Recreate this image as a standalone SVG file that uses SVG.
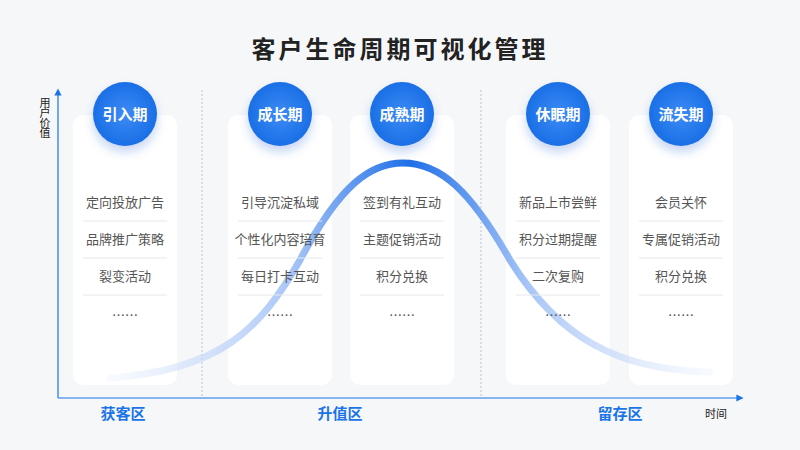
<svg xmlns="http://www.w3.org/2000/svg" width="800" height="450" viewBox="0 0 800 450">
<defs>
<style>
text{font-family:"Noto Sans CJK SC","Noto Sans",sans-serif;}
.card{fill:#fff;}
.ttl{font-size:15px;font-weight:bold;fill:#fff;text-anchor:middle;}
.it{font-size:13px;fill:#555;text-anchor:middle;}
.dv{stroke:#e6e8ec;stroke-width:1;}
.zone{font-size:15px;font-weight:bold;fill:#1a73e8;text-anchor:middle;}
.sep{stroke:#b8c4d8;stroke-width:1;stroke-dasharray:2 2;}
</style>
<linearGradient id="cg" x1="0" y1="0" x2="1" y2="0">
<stop offset="0" stop-color="#dbe6fb" stop-opacity="0.2"/>
<stop offset="0.3" stop-color="#a9c6f7"/>
<stop offset="0.5" stop-color="#1f6fe8"/>
<stop offset="0.7" stop-color="#a9c6f7"/>
<stop offset="1" stop-color="#dbe6fb" stop-opacity="0.2"/>
</linearGradient>
<radialGradient id="bg" cx="0.5" cy="0.5" r="0.5">
<stop offset="0" stop-color="#3d8bf5"/><stop offset="1" stop-color="#1a6fe6"/>
</radialGradient>
<filter id="sh" x="-50%" y="-50%" width="200%" height="200%"><feDropShadow dx="0" dy="6" stdDeviation="5" flood-color="#1a5fd0" flood-opacity="0.25"/></filter>
<marker id="ar" viewBox="0 0 6 6" refX="3" refY="3" markerWidth="6" markerHeight="6" orient="auto"><path d="M0,0 L6,3 L0,6 Z" fill="#1a73e8"/></marker>
</defs>
<rect width="800" height="450" fill="#f6f7f9"/>
<text x="400" y="58" font-size="24" font-weight="bold" fill="#222" text-anchor="middle" letter-spacing="3">客户生命周期可视化管理</text>
<g id="cards">
<rect class="card" x="73" y="115" width="104" height="270" rx="10"/>
<rect class="card" x="228" y="115" width="104" height="270" rx="10"/>
<rect class="card" x="350" y="115" width="104" height="270" rx="10"/>
<rect class="card" x="506" y="115" width="104" height="270" rx="10"/>
<rect class="card" x="629" y="115" width="104" height="270" rx="10"/>
</g>
<g id="connectors">
<line x1="58" y1="398" x2="58" y2="92" stroke="#1a73e8" stroke-width="1.2" marker-end="url(#ar)"/>
<line x1="58" y1="398" x2="740" y2="398" stroke="#1a73e8" stroke-width="1.2" marker-end="url(#ar)"/>
<line class="sep" x1="202" y1="90" x2="202" y2="398"/>
<line class="sep" x1="481" y1="90" x2="481" y2="398"/>
<path d="M110,378 C220,370 260,330 300,260 C340,185 370,163 403,163 C440,163 470,190 510,260 C560,340 620,370 710,372" fill="none" stroke="url(#cg)" stroke-width="7" stroke-linecap="round"/>
</g>
<text x="45" y="97" font-size="11" fill="#222" writing-mode="tb" text-anchor="start" letter-spacing="-1">用户价值</text>
<text x="716" y="418" font-size="11" fill="#222" text-anchor="middle">时间</text>
<text class="zone" x="123" y="419">获客区</text>
<text class="zone" x="340" y="419">升值区</text>
<text class="zone" x="620" y="419">留存区</text>
<g id="n1">
<circle cx="125" cy="114" r="32" fill="url(#bg)" filter="url(#sh)"/><text class="ttl" x="125" y="120">引入期</text>
<text class="it" x="125" y="207">定向投放广告</text><line class="dv" x1="83" y1="221" x2="167" y2="221"/>
<text class="it" x="125" y="244">品牌推广策略</text><line class="dv" x1="83" y1="258" x2="167" y2="258"/>
<text class="it" x="125" y="281">裂变活动</text><line class="dv" x1="83" y1="295" x2="167" y2="295"/>
<text class="it" x="125" y="320" font-size="10">……</text>
</g>
<g id="n2">
<circle cx="280" cy="114" r="32" fill="url(#bg)" filter="url(#sh)"/><text class="ttl" x="280" y="120">成长期</text>
<text class="it" x="280" y="207">引导沉淀私域</text><line class="dv" x1="238" y1="221" x2="322" y2="221"/>
<text class="it" x="280" y="244">个性化内容培育</text><line class="dv" x1="238" y1="258" x2="322" y2="258"/>
<text class="it" x="280" y="281">每日打卡互动</text><line class="dv" x1="238" y1="295" x2="322" y2="295"/>
<text class="it" x="280" y="320" font-size="10">……</text>
</g>
<g id="n3">
<circle cx="402" cy="114" r="32" fill="url(#bg)" filter="url(#sh)"/><text class="ttl" x="402" y="120">成熟期</text>
<text class="it" x="402" y="207">签到有礼互动</text><line class="dv" x1="360" y1="221" x2="444" y2="221"/>
<text class="it" x="402" y="244">主题促销活动</text><line class="dv" x1="360" y1="258" x2="444" y2="258"/>
<text class="it" x="402" y="281">积分兑换</text><line class="dv" x1="360" y1="295" x2="444" y2="295"/>
<text class="it" x="402" y="320" font-size="10">……</text>
</g>
<g id="n4">
<circle cx="558" cy="114" r="32" fill="url(#bg)" filter="url(#sh)"/><text class="ttl" x="558" y="120">休眠期</text>
<text class="it" x="558" y="207">新品上市尝鲜</text><line class="dv" x1="516" y1="221" x2="600" y2="221"/>
<text class="it" x="558" y="244">积分过期提醒</text><line class="dv" x1="516" y1="258" x2="600" y2="258"/>
<text class="it" x="558" y="281">二次复购</text><line class="dv" x1="516" y1="295" x2="600" y2="295"/>
<text class="it" x="558" y="320" font-size="10">……</text>
</g>
<g id="n5">
<circle cx="681" cy="114" r="32" fill="url(#bg)" filter="url(#sh)"/><text class="ttl" x="681" y="120">流失期</text>
<text class="it" x="681" y="207">会员关怀</text><line class="dv" x1="639" y1="221" x2="723" y2="221"/>
<text class="it" x="681" y="244">专属促销活动</text><line class="dv" x1="639" y1="258" x2="723" y2="258"/>
<text class="it" x="681" y="281">积分兑换</text><line class="dv" x1="639" y1="295" x2="723" y2="295"/>
<text class="it" x="681" y="320" font-size="10">……</text>
</g>
</svg>
